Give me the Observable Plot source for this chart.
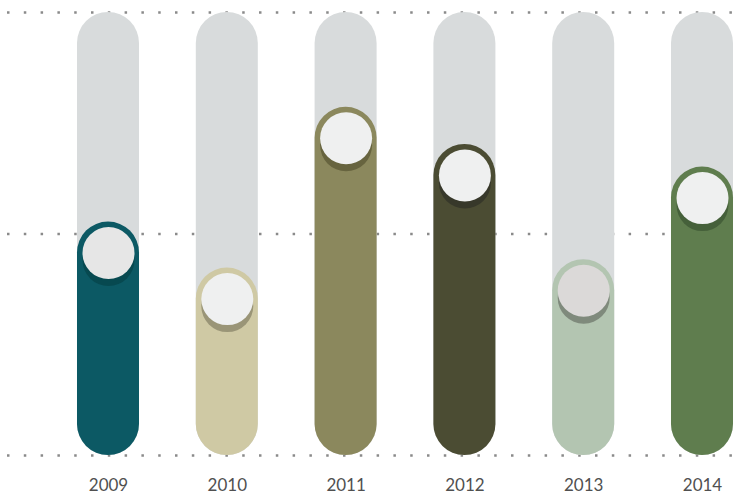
<!DOCTYPE html>
<html>
<head>
<meta charset="utf-8">
<script src="https://cdn.jsdelivr.net/npm/d3@7"></script>
<script src="https://cdn.jsdelivr.net/npm/@observablehq/plot@0.6"></script>
<style>
  html, body { margin: 0; padding: 0; background: #fff; }
  #chart svg { display: block; }
</style>
</head>
<body>
<div id="chart"></div>
<script>
const years = ["2009", "2010", "2011", "2012", "2013", "2014"];
const values = [52.7, 42.3, 78.6, 70.2, 44.2, 65.1];
const barColors = ["#0c5964", "#cfc9a4", "#8b885d", "#4b4c33", "#b3c5b1", "#5f7d4e"];
const shadowColors = ["#074950", "#9a9577", "#67643f", "#37382a", "#7f8a7c", "#45603a"];
const knobColors = ["#e6e6e6", "#eff0f0", "#eff0f0", "#eff0f0", "#dbd9d8", "#eff0f0"];
const maxValue = 100;
const gridValues = [0, 50, 100];

const data = years.map((year, i) => ({
  year, value: values[i], color: barColors[i], shadow: shadowColors[i], knob: knobColors[i], max: maxValue
}));

const chart = Plot.plot({
  width: 744,
  height: 495,
  marginLeft: 7,
  marginRight: 0,
  marginTop: 12,
  marginBottom: 40,
  style: { fontFamily: "Lato, 'Open Sans', sans-serif", fontSize: "17px", color: "#505050", background: "#fff" },
  x: { type: "band", domain: years, range: [48.6, 761.4], paddingInner: 0.478, paddingOuter: 0.239, round: false, axis: null },
  y: { domain: [0, maxValue], range: [455, 12], axis: null },
  marks: [
    Plot.ruleY(gridValues, { stroke: "#8a8a8a", strokeWidth: 2.5, strokeDasharray: "2.5,14.3" }),
    Plot.barY(data, { x: "year", y: "max", fill: "#d8dbdc", rx: 31, ry: 31 }),
    Plot.barY(data, { x: "year", y: "value", fill: "color", rx: 31, ry: 31 }),
    Plot.dot(data, { x: "year", y: "value", r: 26, dy: 38, fill: "shadow", stroke: null }),
    Plot.dot(data, { x: "year", y: "value", r: 26, dy: 31, fill: "knob", stroke: null }),
    Plot.axisX({ tickSize: 0, tickPadding: 23, fontSize: 17, fill: "#505050", label: null })
  ]
});
document.getElementById("chart").append(chart);
</script>
</body>
</html>
